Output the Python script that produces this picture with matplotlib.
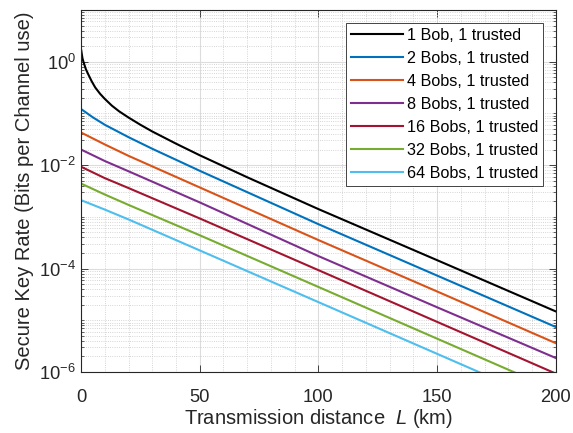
import numpy as np
import matplotlib
matplotlib.use("Agg")
import matplotlib.pyplot as plt
from matplotlib.ticker import LogLocator, MultipleLocator, NullFormatter

plt.rcParams['font.family'] = ['Liberation Sans', 'DejaVu Sans']
plt.rcParams['mathtext.fontset'] = 'custom'
plt.rcParams['mathtext.rm'] = 'Liberation Sans'
plt.rcParams['mathtext.it'] = 'Liberation Sans:italic'

# distance (km) and secure key rate
L_1bob = [0.1, 0.3, 0.6, 1, 2, 3, 4.5, 6, 8, 10, 13, 16, 20, 25, 30, 40, 50,
          70, 100, 150, 200]
R_1bob = [1.65, 1.43, 1.17, 1.0, 0.724, 0.575, 0.417, 0.316, 0.240, 0.191,
          0.141, 0.110, 0.0832, 0.0603, 0.0447, 0.0260, 0.0155, 5.82e-3,
          1.41e-3, 1.45e-4, 1.48e-5]

L_2bobs = [0, 5, 10, 20, 30, 50, 100, 150, 200]
R_2bobs = [0.1216, 0.0837, 0.0603, 0.0347, 0.0207, 7.76e-3, 7.2e-4, 7.3e-5, 7.4e-6]

L = [0, 10, 20, 50, 100, 150, 200]
R_4bobs = [0.0427, 0.0251, 0.0151, 3.7e-3, 3.55e-4, 3.6e-5, 3.6e-6]
R_8bobs = [0.0200, 0.0120, 7.6e-3, 1.9e-3, 1.74e-4, 1.78e-5, 1.86e-6]
R_16bobs = [9.3e-3, 5.6e-3, 3.6e-3, 9.3e-4, 9.3e-5, 9.3e-6, 9.3e-7]
R_32bobs = [4.4e-3, 2.7e-3, 1.7e-3, 4.4e-4, 4.4e-5, 4.4e-6, 4.4e-7]
R_64bobs = [2.1e-3, 1.38e-3, 8.9e-4, 2.24e-4, 2.24e-5, 2.24e-6, 2.24e-7]

labels = ['1 Bob, 1 trusted', '2 Bobs, 1 trusted', '4 Bobs, 1 trusted',
          '8 Bobs, 1 trusted', '16 Bobs, 1 trusted', '32 Bobs, 1 trusted',
          '64 Bobs, 1 trusted']
colors = ['k', (0, 0.447, 0.741), (0.85, 0.325, 0.098), (0.494, 0.184, 0.556),
          (0.635, 0.078, 0.184), (0.466, 0.674, 0.188), (0.301, 0.745, 0.933)]

fig = plt.figure(figsize=(5.73, 4.33), dpi=100)
ax = fig.add_axes([0.1414, 0.141, 0.8286, 0.836])

series = [(L_1bob, R_1bob), (L_2bobs, R_2bobs), (L, R_4bobs), (L, R_8bobs),
          (L, R_16bobs), (L, R_32bobs), (L, R_64bobs)]
for (x, y), lab, c in zip(series, labels, colors):
    ax.plot(x, y, color=c, linewidth=1.5, label=lab)

ax.set_yscale('log')
ax.set_xlim(0, 200)
ax.set_ylim(1e-6, 1e1)
ax.set_yticks([1e-6, 1e-4, 1e-2, 1e0])
ax.yaxis.set_minor_locator(LogLocator(base=10, subs=np.arange(1, 10), numticks=50))
ax.yaxis.set_minor_formatter(NullFormatter())
ax.xaxis.set_major_locator(MultipleLocator(50))
ax.xaxis.set_minor_locator(MultipleLocator(10))

ax.grid(True, which='major', color='#dcdcdc', linewidth=0.8, linestyle='-')
ax.grid(True, which='minor', color='#c8c8c8', linewidth=0.6, linestyle=':')
ax.set_axisbelow(True)

ax.tick_params(which='both', direction='in', top=True, right=True,
               labelsize=13.2, colors='#262626')
ax.tick_params(which='major', length=5, width=0.6)
ax.tick_params(which='minor', length=2.5, width=0.5)
ax.tick_params(axis='x', which='minor', length=0)
ax.tick_params(axis='x', pad=12)
for s in ax.spines.values():
    s.set_color('#262626')
    s.set_linewidth(0.8)

ax.set_xlabel('Transmission distance  $L$ (km)', fontsize=14.5, color='#262626',
              labelpad=1)
ax.set_ylabel('Secure Key Rate (Bits per Channel use)', fontsize=14.5, color='#262626')

leg = ax.legend(loc='upper right', fontsize=11.6, frameon=True, fancybox=False,
                edgecolor='#262626', framealpha=1, handlelength=3.25,
                handletextpad=0.2, labelspacing=0.5, borderaxespad=0.8,
                borderpad=0.3)
leg.get_frame().set_linewidth(0.6)

fig.savefig('out.png', dpi=100)
